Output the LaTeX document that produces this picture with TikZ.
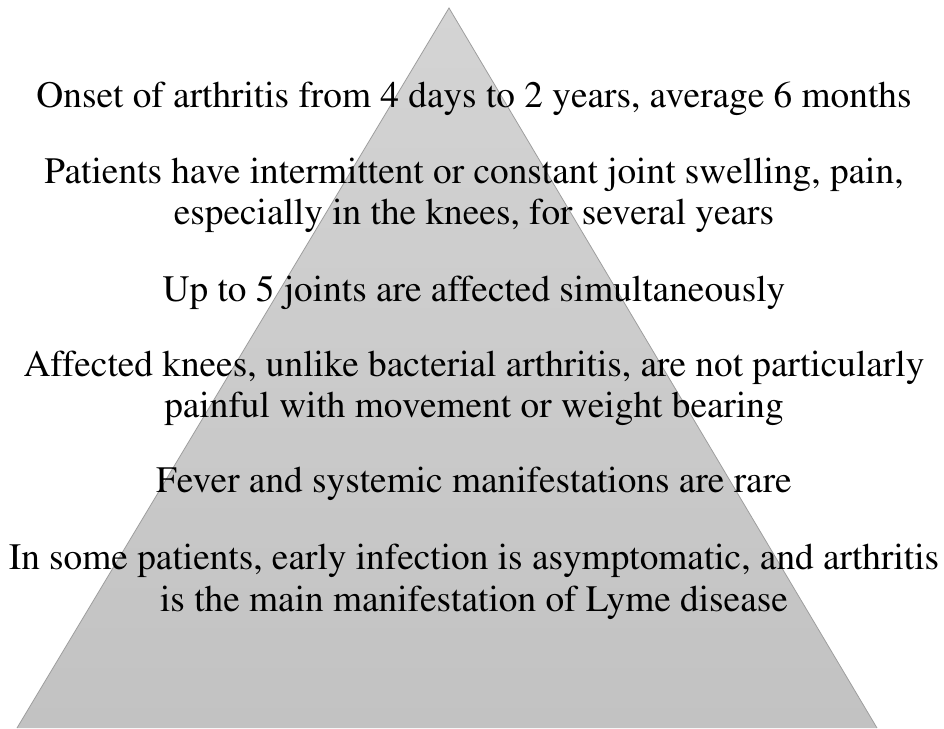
\documentclass[tikz,border=0pt]{standalone}
\usepackage[T1]{fontenc}
\usepackage{mathptmx}
\usetikzlibrary{positioning}
\definecolor{pyrtop}{RGB}{212,212,212}
\definecolor{pyrbottom}{RGB}{194,194,194}
\definecolor{pyredge}{RGB}{158,158,158}
\tikzset{pyrtext/.style = {align=center, anchor=base, inner sep=0pt,
                           font=\rmfamily\fontsize{37.3}{41.5}\selectfont}}
\tikzset{pyredges/.style = {draw=pyredge, line width=0.8pt, line join=miter}}

\begin{document}
\begin{tikzpicture}[x=1pt,y=1pt]
      \useasboundingbox (0,0) rectangle (944,728);
      \shade[top color=pyrtop, bottom color=pyrbottom]
        (17,0) -- (449,720) -- (877,0) -- cycle;
      \draw[pyredges] (17,0) -- (449,720) -- (877,0);
      % base anchor = baseline of the last line
      \node[pyrtext] (onset) at (474,620)
        {Onset of arthritis from 4 days to 2 years, average 6 months};
      \node[pyrtext] (swell) at (474,503)
        {Patients have intermittent or constant joint swelling, pain,\\
         especially in the knees, for several years};
      \node[pyrtext] (joints) at (474,426)
        {Up to 5 joints are affected simultaneously};
      \node[pyrtext] (knees) at (474,310)
        {Affected knees, unlike bacterial arthritis, are not particularly\\
         painful with movement or weight bearing};
      \node[pyrtext] (fever) at (474,235)
        {Fever and systemic manifestations are rare};
      \node[pyrtext] (lyme) at (474,117)
        {In some patients, early infection is asymptomatic, and arthritis\\
         is the main manifestation of Lyme disease};
    \end{tikzpicture}
\end{document}
